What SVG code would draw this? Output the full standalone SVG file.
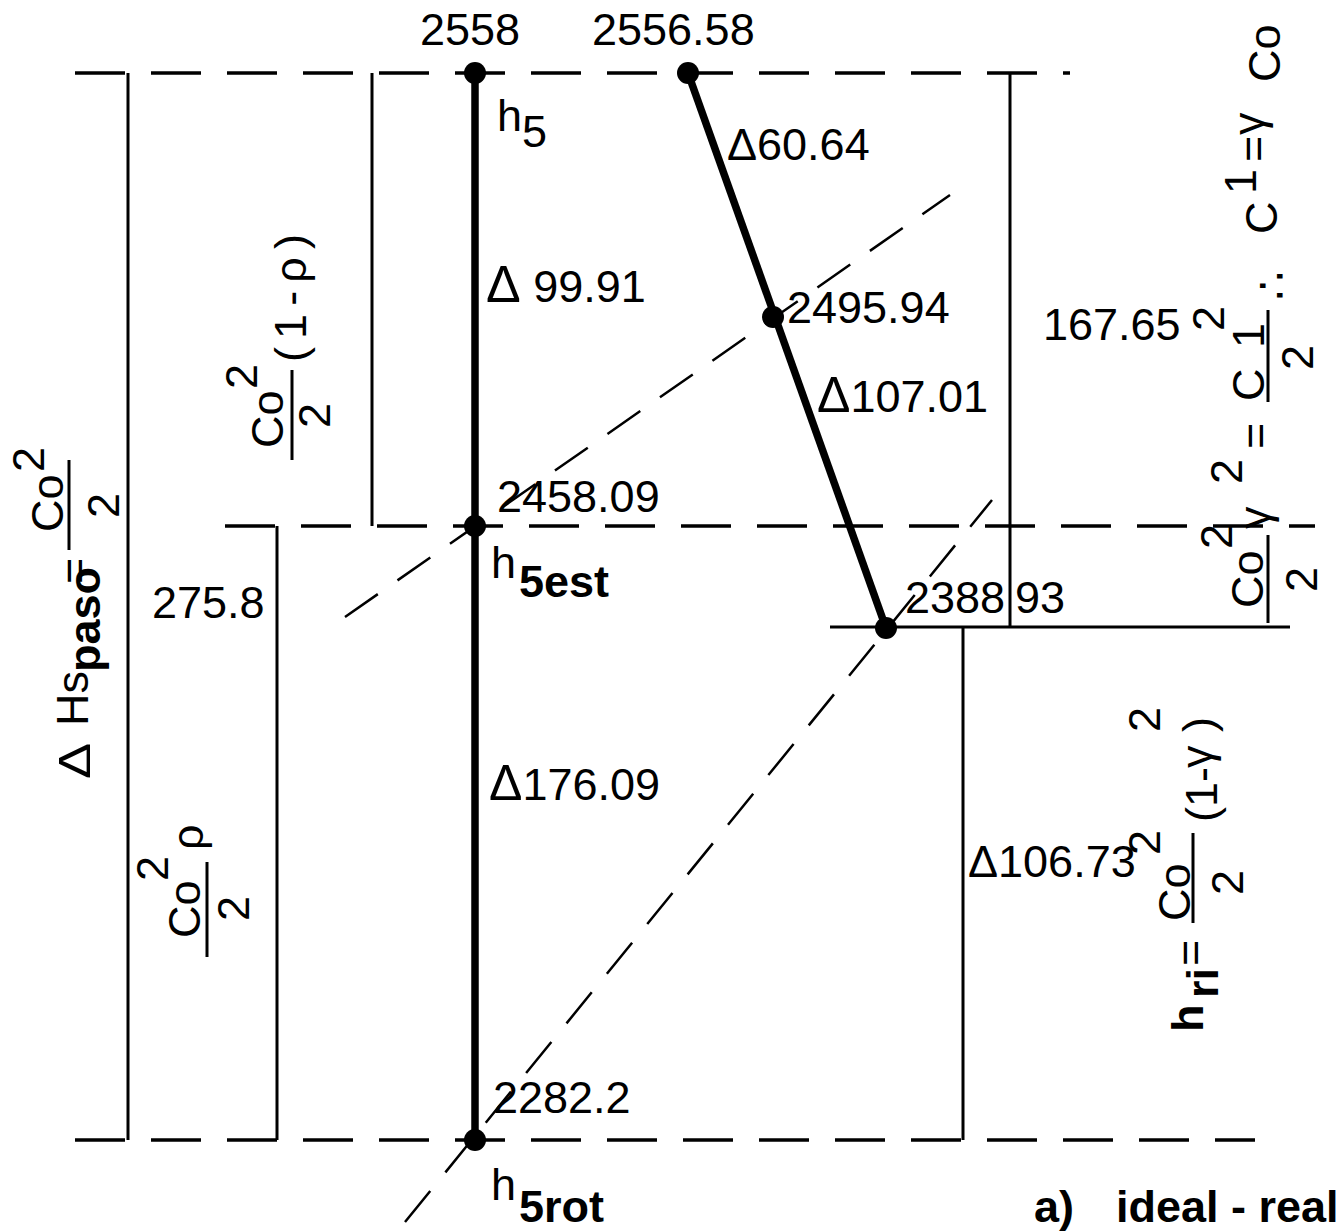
<svg xmlns="http://www.w3.org/2000/svg" width="1341" height="1232" viewBox="0 0 1341 1232">
<style>
.t{font-family:"Liberation Sans",Arial,sans-serif;font-size:45px;fill:#000}
.b{font-weight:bold}
.thin{stroke:#000;stroke-width:3;fill:none}
.thick{stroke:#000;stroke-width:7.5;fill:none}
.dh{stroke:#000;stroke-width:3.5;fill:none;stroke-dasharray:50 26}
.dd{stroke:#000;stroke-width:2.5;fill:none;stroke-dasharray:40 24}
.n{fill:#000}
</style>
<rect width="1341" height="1232" fill="#fff"/>
<g id="connectors">
  <line class="dh" x1="75" y1="73" x2="1070" y2="73"/>
  <line class="dh" x1="225" y1="526" x2="1315" y2="526"/>
  <line class="dh" x1="75" y1="1140" x2="1255" y2="1140"/>
  <line class="thin" x1="830" y1="627" x2="1290" y2="627"/>
  <line class="thin" x1="128" y1="73" x2="128" y2="1140"/>
  <line class="thin" x1="372" y1="73" x2="372" y2="526"/>
  <line class="thin" x1="277" y1="526" x2="277" y2="1140"/>
  <line class="thin" x1="1010" y1="73" x2="1010" y2="627"/>
  <line class="thin" x1="963" y1="627" x2="963" y2="1140"/>
  <line class="thick" x1="475" y1="73" x2="475" y2="1140"/>
  <line class="thick" x1="688" y1="73" x2="886" y2="628" stroke-width="8.5"/>
  <line class="dd" x1="345" y1="617" x2="950" y2="195"/>
  <line class="dd" x1="405" y1="1222" x2="992" y2="500"/>
  <line class="thin" x1="69" y1="460" x2="69" y2="550"/>
  <line class="thin" x1="292" y1="370" x2="292" y2="460"/>
  <line class="thin" x1="207" y1="862" x2="207" y2="957"/>
  <line class="thin" x1="1268" y1="310" x2="1268" y2="402"/>
  <line class="thin" x1="1268" y1="535" x2="1268" y2="623"/>
  <line class="thin" x1="1193" y1="833" x2="1193" y2="923"/>
</g>
<g id="n-h5"><circle class="n" cx="475" cy="73" r="11"/></g>
<g id="n-top2"><circle class="n" cx="688" cy="73" r="11"/></g>
<g id="n-2495"><circle class="n" cx="773" cy="317" r="11"/></g>
<g id="n-h5est"><circle class="n" cx="475" cy="526" r="11"/></g>
<g id="n-2388"><circle class="n" cx="886" cy="628" r="11"/></g>
<g id="n-h5rot"><circle class="n" cx="475" cy="1140" r="11"/></g>
<g id="labels">
  <text class="t" x="420" y="45">2558</text>
  <text class="t" x="592" y="45">2556.58</text>
  <text class="t" x="497" y="131" font-size="42">h</text>
  <text class="t" x="522" y="147" font-size="28">5</text>
  <text class="t" x="727" y="160">Δ60.64</text>
  <text class="t" x="486" y="302"><tspan font-size="52">Δ</tspan> 99.91</text>
  <text class="t" x="787" y="323">2495.94</text>
  <text class="t" x="1043" y="340">167.65</text>
  <text class="t" x="817" y="412"><tspan font-size="50">Δ</tspan>107.01</text>
  <text class="t" x="497" y="512">2458.09</text>
  <text class="t" x="491" y="578">h</text>
  <text class="t b" x="519" y="597" font-size="28">5est</text>
  <text class="t" x="152" y="618">275.8</text>
  <text class="t" x="905" y="613">2388</text>
  <text class="t" x="1015" y="613">93</text>
  <text class="t" x="489" y="800"><tspan font-size="50">Δ</tspan>176.09</text>
  <text class="t" x="968" y="877" font-size="44">Δ106.73</text>
  <text class="t" x="493" y="1113">2282.2</text>
  <text class="t" x="491" y="1200">h</text>
  <text class="t b" x="519" y="1222" font-size="28">5rot</text>
  <text class="t b" x="1034" y="1222" font-size="34">a)</text>
  <text class="t b" x="1116" y="1222" font-size="42">ideal - real</text>
</g>
<g id="left-formula">
  <text class="t" font-size="50" transform="translate(90,779) rotate(-90) scale(1.2,1)">Δ</text>
  <text class="t" font-size="46" transform="translate(88,726) rotate(-90)">Hs</text>
  <text class="t b" font-size="24" transform="translate(100,672) rotate(-90)">paso</text>
  <text class="t" font-size="44" transform="translate(89,584) rotate(-90)">=</text>
  <text class="t" font-size="44" transform="translate(63,532) rotate(-90)">Co</text>
  <text class="t" font-size="20" transform="translate(44,472) rotate(-90)">2</text>
  <text class="t" font-size="48" transform="translate(119,518) rotate(-90)">2</text>
</g>
<g id="left-formula2">
  <text class="t" font-size="38" transform="translate(283,448) rotate(-90)">Co</text>
  <text class="t" font-size="22" transform="translate(257,389) rotate(-90)">2</text>
  <text class="t" font-size="42" transform="translate(330,428) rotate(-90)">2</text>
  <text class="t" font-size="40" transform="translate(306,362) rotate(-90)" textLength="128" lengthAdjust="spacing">(1-ρ)</text>
</g>
<g id="left-formula3">
  <text class="t" font-size="40" transform="translate(200,938) rotate(-90)">Co</text>
  <text class="t" font-size="20" transform="translate(168,881) rotate(-90)">2</text>
  <text class="t" font-size="46" transform="translate(249,921) rotate(-90)">2</text>
  <text class="t" font-size="40" transform="translate(203,850) rotate(-90)">ρ</text>
</g>
<g id="right-formula">
  <text class="t" font-size="44" transform="translate(1263,608) rotate(-90)">Co</text>
  <text class="t" font-size="22" transform="translate(1232,549) rotate(-90)">2</text>
  <text class="t" font-size="44" transform="translate(1317,592) rotate(-90)">2</text>
  <text class="t" font-size="56" transform="translate(1270,529) rotate(-90)">γ</text>
  <text class="t" font-size="22" transform="translate(1242,484) rotate(-90)">2</text>
  <text class="t" font-size="40" transform="translate(1270,449) rotate(-90)">=</text>
  <text class="t" font-size="48" transform="translate(1264,401) rotate(-90)" textLength="78" lengthAdjust="spacing">C1</text>
  <text class="t" font-size="22" transform="translate(1224,331) rotate(-90)">2</text>
  <text class="t" font-size="52" transform="translate(1313,370) rotate(-90)">2</text>
  <text class="t" font-size="64" style="font-family:'DejaVu Sans',sans-serif" transform="translate(1287,300) rotate(-90)">∴</text>
  <text class="t" font-size="46" transform="translate(1277,234) rotate(-90)">C</text>
  <text class="t" font-size="18" transform="translate(1256,194) rotate(-90)">1</text>
  <text class="t" font-size="40" transform="translate(1268,162) rotate(-90)">=</text>
  <text class="t" font-size="58" transform="translate(1264,135) rotate(-90)">γ</text>
  <text class="t" font-size="44" transform="translate(1280,82) rotate(-90)">Co</text>
</g>
<g id="right-formula2">
  <text class="t b" font-size="44" transform="translate(1203,1032) rotate(-90)">h</text>
  <text class="t b" font-size="22" transform="translate(1218,998) rotate(-90)">ri</text>
  <text class="t" font-size="42" transform="translate(1205,966) rotate(-90)">=</text>
  <text class="t" font-size="42" transform="translate(1190,921) rotate(-90)">Co</text>
  <text class="t" font-size="28" transform="translate(1160,855) rotate(-90)">2</text>
  <text class="t" font-size="46" transform="translate(1243,895) rotate(-90)">2</text>
  <text class="t" font-size="44" transform="translate(1217,822) rotate(-90)">(1-</text>
  <text class="t" font-size="56" transform="translate(1212,768) rotate(-90)">γ</text>
  <text class="t" font-size="44" transform="translate(1214,732) rotate(-90)">)</text>
  <text class="t" font-size="22" transform="translate(1160,732) rotate(-90)">2</text>
</g>
</svg>
